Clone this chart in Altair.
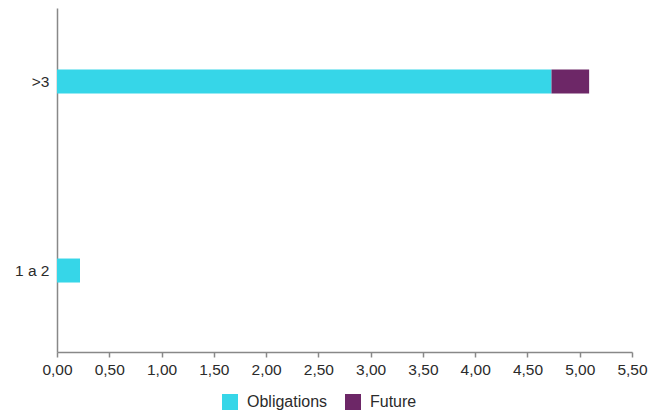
import altair as alt
import pandas as pd

categories = [">3", ">3", "1 a 2", "1 a 2"]
series = ["Obligations", "Future", "Obligations", "Future"]
values = [4.73, 0.36, 0.22, 0.0]
order_idx = [0, 1, 0, 1]

df = pd.DataFrame({"cat": categories, "serie": series, "val": values, "o": order_idx})

x_ticks = [0, 0.5, 1, 1.5, 2, 2.5, 3, 3.5, 4, 4.5, 5, 5.5]

FONT = "Liberation Sans"
TXT = "#2b2b2b"

chart = alt.Chart(df).mark_bar().encode(
    y=alt.Y("cat:N", sort=[">3", "1 a 2"], title=None,
            scale=alt.Scale(paddingInner=0.873, paddingOuter=0.347, align=0.47),
            axis=alt.Axis(ticks=False, domainColor="#888888", domainWidth=1.5, labelColor=TXT,
                          labelFontSize=15.5, labelPadding=8, labelFont=FONT)),
    x=alt.X("val:Q", stack="zero", title=None,
            scale=alt.Scale(domain=[0, 5.5], nice=False),
            axis=alt.Axis(values=x_ticks, grid=False, domainColor="#888888", domainWidth=1.5,
                          tickColor="#888888", tickWidth=1.5,
                          tickSize=5, labelColor=TXT, labelFontSize=15.5,
                          labelFont=FONT, labelPadding=5, labelFlush=False, labelOverlap=False,
                          labelExpr="replace(format(datum.value, '.2f'), '.', ',')")),
    color=alt.Color("serie:N", sort=["Obligations", "Future"],
                    scale=alt.Scale(domain=["Obligations", "Future"], range=["#36d6e8", "#6d2767"]),
                    legend=alt.Legend(title=None, orient="none", direction="horizontal",
                                      legendX=165, legendY=386, symbolType="square",
                                      symbolSize=256, symbolStrokeWidth=0, labelFontSize=16,
                                      labelColor=TXT, labelFont=FONT, labelOffset=9,
                                      columnPadding=17)),
    order=alt.Order("o:Q"),
).properties(
    width=575, height=344, padding={"left": 49, "top": 0, "right": 16, "bottom": 62},
    autosize=alt.AutoSizeParams(type="none"), background="white",
).configure_view(strokeWidth=0, stroke="transparent")

chart.save("out.html", embed_options={"renderer": "svg", "actions": False})
